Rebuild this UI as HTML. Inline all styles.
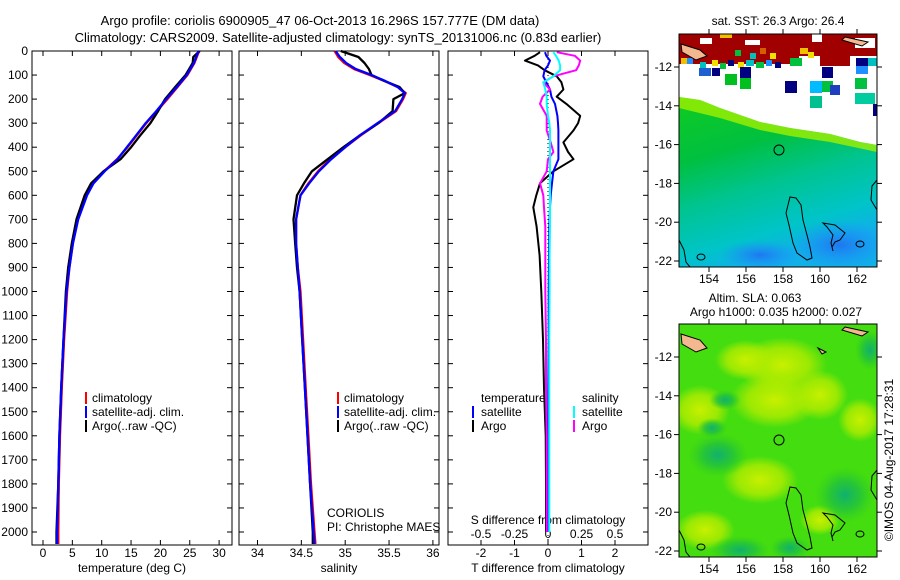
<!DOCTYPE html>
<html><head><meta charset="utf-8"><style>
html,body{margin:0;padding:0;background:#fff;}
svg{display:block;font-family:"Liberation Sans",sans-serif;}
text{fill:#000;}
</style></head><body>
<svg id="fig" width="900" height="580" viewBox="0 0 900 580" xmlns="http://www.w3.org/2000/svg">
<defs>
<linearGradient id="sstg" x1="0" y1="0" x2="0.35" y2="1">
<stop offset="0" stop-color="#10cc20"/><stop offset="0.35" stop-color="#00c040"/><stop offset="0.6" stop-color="#00c490"/><stop offset="0.85" stop-color="#00c4c8"/><stop offset="1" stop-color="#10b0e8"/></linearGradient>
<radialGradient id="yel"><stop offset="0" stop-color="#c8f000"/><stop offset="0.6" stop-color="#b0ec00" stop-opacity="0.8"/><stop offset="1" stop-color="#b0ec00" stop-opacity="0"/></radialGradient>
<radialGradient id="tea"><stop offset="0" stop-color="#10b070"/><stop offset="0.5" stop-color="#20c040" stop-opacity="0.8"/><stop offset="1" stop-color="#30cc20" stop-opacity="0"/></radialGradient>
<radialGradient id="blu"><stop offset="0" stop-color="#1e78f0"/><stop offset="1" stop-color="#1e90ff" stop-opacity="0"/></radialGradient>
<clipPath id="m1"><rect x="679" y="34" width="198" height="233"/></clipPath>
<clipPath id="m2"><rect x="679" y="324" width="198" height="233"/></clipPath>
</defs>

<text x="320" y="25" font-size="13" text-anchor="middle">Argo profile: coriolis 6900905_47 06-Oct-2013 16.296S 157.777E (DM data)</text>
<text x="338" y="42" font-size="13" text-anchor="middle">Climatology: CARS2009. Satellite-adjusted climatology: synTS_20131006.nc (0.83d earlier)</text>

<g id="p1"></g>
<g id="p2"></g>
<g id="p3"></g>

<g font-size="12">
<rect x="85" y="392" width="2" height="12" fill="#f00"/><text x="92" y="402">climatology</text>
<rect x="85" y="406" width="2" height="12" fill="#00f"/><text x="92" y="416">satellite-adj. clim.</text>
<rect x="85" y="420" width="2" height="12" fill="#000"/><text x="92" y="430">Argo(..raw -QC)</text>
</g>
<g font-size="12">
<rect x="337" y="392" width="2" height="12" fill="#f00"/><text x="344" y="402">climatology</text>
<rect x="337" y="406" width="2" height="12" fill="#00f"/><text x="344" y="416">satellite-adj. clim.</text>
<rect x="337" y="420" width="2" height="12" fill="#000"/><text x="344" y="430">Argo(..raw -QC)</text>
</g>
<g font-size="12">
<text x="481" y="402">temperature</text>
<rect x="472" y="406" width="2" height="12" fill="#00f"/><text x="481" y="416">satellite</text>
<rect x="472" y="420" width="2" height="12" fill="#000"/><text x="481" y="430">Argo</text>
<text x="582" y="402">salinity</text>
<rect x="573" y="406" width="2" height="12" fill="#0ff"/><text x="582" y="416">satellite</text>
<rect x="573" y="420" width="2" height="12" fill="#f0f"/><text x="582" y="430">Argo</text>
</g>
<text x="327" y="517" font-size="12">CORIOLIS</text>
<text x="327" y="531" font-size="12">PI: Christophe MAES</text>

<g>
<text x="778" y="25" font-size="12" text-anchor="middle">sat. SST: 26.3 Argo: 26.4</text>
<g clip-path="url(#m1)">
<rect x="679" y="34" width="198" height="233" fill="#fff"/>
<polygon points="679,97 700,100 720,108 740,115 760,122 790,128 830,134 860,142 877,145 877,267 679,267" fill="url(#sstg)"/>
<polygon points="679,97 700,100 720,108 740,115 760,122 790,128 830,134 860,142 877,145 877,152 830,142 790,136 760,130 720,118 679,108" fill="#a0f000" opacity="0.8"/>
<ellipse cx="840" cy="245" rx="50" ry="25" fill="url(#blu)"/>
<ellipse cx="760" cy="255" rx="40" ry="15" fill="url(#blu)"/>
<rect x="679" y="34" width="198" height="22" fill="#a00000"/>
<rect x="679" y="56" width="120" height="8" fill="#a00000"/>
<rect x="820" y="56" width="30" height="10" fill="#a00000"/>
<rect x="700" y="38" width="12" height="6" fill="#fff"/><rect x="745" y="40" width="15" height="5" fill="#fff"/><rect x="812" y="34" width="10" height="8" fill="#fff"/><rect x="855" y="38" width="20" height="10" fill="#fff"/>
<rect x="720" y="34" width="12" height="4" fill="#f0c000"/>
<rect x="735" y="50" width="6" height="6" fill="#00c040"/><rect x="750" y="53" width="6" height="6" fill="#00c0c0"/><rect x="760" y="48" width="6" height="6" fill="#d06000"/><rect x="770" y="53" width="6" height="6" fill="#f0e000"/>
<rect x="681" y="58" width="6" height="6" fill="#f0c000"/><rect x="687" y="58" width="6" height="6" fill="#1e90ff"/><rect x="700" y="62" width="6" height="6" fill="#00c0c0"/><rect x="712" y="60" width="6" height="6" fill="#f0e000"/><rect x="720" y="63" width="6" height="6" fill="#00c040"/><rect x="728" y="60" width="6" height="6" fill="#000080"/><rect x="738" y="62" width="6" height="6" fill="#f0e000"/><rect x="746" y="60" width="8" height="6" fill="#00c0c0"/><rect x="756" y="62" width="8" height="6" fill="#00c040"/><rect x="766" y="60" width="6" height="6" fill="#1e90ff"/><rect x="775" y="62" width="6" height="6" fill="#000080"/><rect x="790" y="58" width="12" height="8" fill="#00c040"/><rect x="800" y="48" width="8" height="6" fill="#f0c000"/><rect x="808" y="52" width="6" height="6" fill="#f0e000"/>
<rect x="699" y="68" width="12" height="8" fill="#1e60d0"/><rect x="712" y="68" width="8" height="8" fill="#000080"/><rect x="725" y="74" width="12" height="11" fill="#00c020"/><rect x="740" y="67" width="11" height="11" fill="#000080"/>
<rect x="740" y="78" width="11" height="11" fill="#00c020"/><rect x="785" y="81" width="12" height="12" fill="#000080"/><rect x="810" y="81" width="12" height="12" fill="#00bbff"/><rect x="822" y="81" width="11" height="11" fill="#00c040"/><rect x="830" y="85" width="10" height="10" fill="#1e40c0"/>
<rect x="822" y="67" width="11" height="11" fill="#000080"/><rect x="856" y="58" width="12" height="8" fill="#000080"/><rect x="856" y="66" width="12" height="8" fill="#1e90ff"/><rect x="855" y="78" width="12" height="11" fill="#00c040"/><rect x="868" y="58" width="9" height="8" fill="#00c0c0"/>
<rect x="810" y="96" width="12" height="12" fill="#00c090"/><rect x="855" y="93" width="20" height="11" fill="#00cca0"/><rect x="873" y="104" width="4" height="12" fill="#000080"/>
<path d="M681,44 L700,50 L707,56 L696,60 L682,52 Z" fill="#f4b890" stroke="#000" stroke-width="1"/>
<path d="M845,37 L868,42 L862,46 L842,40 Z" fill="#f4b890" stroke="#000" stroke-width="1"/>
</g>
<g fill="none" stroke="#000" stroke-width="1">
<path d="M790,197 L796,198 L801,205 L803,220 L807,235 L810,247 L812,258 L807,260 L797,253 L793,243 L789,225 L786,213 Z"/>
<path d="M823,223 L835,225 L845,233 L840,240 L835,242 L832,247 L833,251 L831,243 L833,235 L827,227 Z"/>
<ellipse cx="860" cy="244" rx="4" ry="3"/>
<path d="M877,180 L872,186 L871,200 L877,210"/>
<path d="M679,240 L684,250 L686,262 L690,267"/>
<ellipse cx="701" cy="257" rx="4" ry="3"/>
</g>
<circle cx="779" cy="150" r="5" fill="none" stroke="#000" stroke-width="1"/>
<rect x="679" y="34" width="198" height="233" fill="none" stroke="#000" stroke-width="1"/>
<g id="m1ticks"></g>
</g>

<g>
<text x="755" y="302" font-size="12" text-anchor="middle">Altim. SLA: 0.063</text>
<text x="776" y="316" font-size="12" text-anchor="middle">Argo h1000: 0.035 h2000: 0.027</text>
<g clip-path="url(#m2)">
<rect x="679" y="324" width="198" height="233" fill="#44dd10"/>
<ellipse cx="782" cy="365" rx="45" ry="28" fill="url(#yel)"/>
<ellipse cx="745" cy="360" rx="30" ry="20" fill="url(#yel)"/>
<ellipse cx="775" cy="400" rx="45" ry="28" fill="url(#yel)"/>
<ellipse cx="700" cy="410" rx="30" ry="25" fill="url(#yel)"/>
<ellipse cx="820" cy="395" rx="28" ry="25" fill="url(#yel)"/>
<ellipse cx="860" cy="420" rx="22" ry="22" fill="url(#yel)"/>
<ellipse cx="760" cy="480" rx="38" ry="24" fill="url(#yel)"/>
<ellipse cx="705" cy="530" rx="30" ry="20" fill="url(#yel)"/>
<ellipse cx="820" cy="520" rx="20" ry="15" fill="url(#yel)"/>
<ellipse cx="718" cy="455" rx="30" ry="22" fill="url(#tea)"/>
<ellipse cx="712" cy="428" rx="15" ry="10" fill="url(#tea)"/>
<ellipse cx="845" cy="495" rx="30" ry="28" fill="url(#tea)"/>
<ellipse cx="725" cy="400" rx="16" ry="10" fill="url(#tea)"/>
<ellipse cx="740" cy="550" rx="30" ry="14" fill="url(#tea)"/>
<ellipse cx="790" cy="548" rx="20" ry="12" fill="url(#tea)"/>
<ellipse cx="870" cy="350" rx="15" ry="20" fill="url(#tea)"/>
<path d="M681,334 L700,340 L707,348 L696,352 L682,344 Z" fill="#f4b890" stroke="#000" stroke-width="1"/>
<path d="M845,327 L868,332 L862,336 L842,330 Z" fill="#f4b890" stroke="#000" stroke-width="1"/>
<path d="M818,348 L826,352 L822,354 Z" fill="#f4b890" stroke="#000" stroke-width="1"/>
</g>
<g fill="none" stroke="#000" stroke-width="1">
<path d="M790,487 L796,488 L801,495 L803,510 L807,525 L810,537 L812,548 L807,550 L797,543 L793,533 L789,515 L786,503 Z"/>
<path d="M823,513 L835,515 L845,523 L840,530 L835,532 L832,537 L833,541 L831,533 L833,525 L827,517 Z"/>
<ellipse cx="860" cy="534" rx="4" ry="3"/>
<path d="M877,470 L872,476 L871,490 L877,500"/>
<path d="M679,530 L684,540 L686,552 L690,557"/>
<ellipse cx="701" cy="547" rx="4" ry="3"/>
</g>
<circle cx="779" cy="440" r="5" fill="none" stroke="#000" stroke-width="1"/>
<rect x="679" y="324" width="198" height="233" fill="none" stroke="#000" stroke-width="1"/>
<g id="m2ticks"></g>
</g>
<text transform="translate(893,460) rotate(-90)" font-size="12" text-anchor="middle">©IMOS 04-Aug-2017 17:28:31</text>

<script>
const depthTicks = [0,100,200,300,400,500,600,700,800,900,1000,1100,1200,1300,1400,1500,1600,1700,1800,1900,2000];
const tempTicks = [0,5,10,15,20,25,30];
const salTicks = [34,34.5,35,35.5,36];
const salTickLabels = ['34','34.5','35','35.5','36'];
const tDiffTicks = [-2,-1,0,1,2];
const sDiffTicks = [-0.5,-0.25,0,0.25,0.5];
const sDiffLabels = ['-0.5','-0.25','0','0.25','0.5'];

const tempDepth = [0,25,50,75,100,150,200,250,300,350,400,450,500,550,600,700,800,900,1000,1200,1400,1600,1800,2000,2050];
const tempClim = [26.6,26.2,25.8,25.2,24.6,22.9,21.2,19.4,17.6,16.0,14.4,12.6,10.4,8.5,7.4,5.9,5.1,4.5,4.1,3.6,3.2,2.9,2.7,2.6,2.6];
const tempSat  = [26.5,26.1,25.7,25.1,24.5,22.8,21.0,19.3,17.5,15.9,14.3,12.7,10.5,8.6,7.5,6.0,5.1,4.5,4.0,3.5,3.1,2.8,2.6,2.4,2.4];
const tempArgo = [26.7,25.6,25.5,24.9,24.3,22.5,20.8,19.6,18.3,16.6,15.0,13.2,10.3,8.2,7.1,5.7,4.9,4.3,3.9,3.5,3.1,2.8,2.6,2.3,2.3];

const salDepth = [0,25,50,75,100,125,150,175,200,250,300,350,400,450,500,550,600,700,800,900,1000,1200,1400,1600,1800,2000,2050];
const salClim = [34.88,34.92,34.99,35.10,35.28,35.45,35.60,35.69,35.66,35.58,35.38,35.18,35.00,34.83,34.69,34.58,34.49,34.44,34.44,34.46,34.49,34.52,34.55,34.58,34.61,34.65,34.66];
const salSat  = [34.89,34.94,35.01,35.12,35.30,35.46,35.60,35.68,35.65,35.57,35.37,35.17,35.00,34.84,34.70,34.59,34.49,34.44,34.44,34.46,34.48,34.51,34.54,34.57,34.60,34.64,34.65];
const salArgo = [34.95,35.15,35.22,35.27,35.30,35.45,35.62,35.68,35.55,35.54,35.38,35.17,34.98,34.80,34.62,34.53,34.45,34.41,34.43,34.45,34.48,34.51,34.54,34.57,34.60,34.63,34.63];

const diffDepth = [5,20,40,60,80,105,130,160,190,220,270,300,330,380,420,450,500,550,600,650,730,850,1000,1200,1400,1600,1800,2000];
const dTArgo = [-0.24,-0.4,-0.69,-0.3,-0.1,0.26,0.4,0.46,0.26,0.55,0.96,0.9,0.76,0.46,0.6,0.76,0.16,-0.24,-0.35,-0.44,-0.34,-0.25,-0.2,-0.15,-0.12,-0.07,-0.06,-0.06];
const dTSat  = [-0.09,-0.05,0.06,0.0,-0.1,-0.14,-0.05,0.06,0.1,0.21,0.28,0.3,0.31,0.31,0.31,0.31,0.16,0.12,0.08,0.06,0.04,0.03,0.02,0.02,0.01,0.01,0.0,0.0];
const dSArgo = [0.065,0.2,0.24,0.23,0.21,0.04,-0.035,0.015,-0.04,-0.06,-0.01,-0.01,-0.01,0.02,0.04,0.0,-0.01,-0.06,-0.035,-0.03,-0.02,-0.02,-0.02,-0.015,-0.015,-0.01,-0.01,-0.01];
const dSSat  = [0.04,0.06,0.08,0.09,0.09,0.04,-0.035,-0.02,-0.01,-0.01,0.0,0.01,0.015,0.015,0.015,0.015,0.015,0.015,0.015,0.015,0.015,0.012,0.012,0.01,0.01,0.01,0.01,0.01];

const latTicks = [-12,-14,-16,-18,-20,-22];
const lonTicks = [154,156,158,160,162];

const NS = 'http://www.w3.org/2000/svg';
const TOP = 51, BOT = 545;
const yD = d => TOP + d * 0.2405;
const xT = t => 43 + t * 5.87;
const xS = s => 257.5 + (s - 34) * 87.7;
const xDT = t => 548 + t * 33.5;
const xDS = s => 548 + s * 134;

function el(tag, attrs, parent) {
  const e = document.createElementNS(NS, tag);
  for (const k in attrs) e.setAttribute(k, attrs[k]);
  parent.appendChild(e);
  return e;
}
function drawPanel(g, x0, x1, name) {
  const fr = el('rect', {x:x0, y:TOP, width:x1-x0, height:BOT-TOP, fill:'none', stroke:'#000', 'stroke-width':1}, g);
  
  
  depthTicks.forEach(d => {
    const y = yD(d);
    const t1 = el('line', {x1:x0, x2:x0+5, y1:y, y2:y, stroke:'#000'}, g);
    
    
    const t2 = el('line', {x1:x1-5, x2:x1, y1:y, y2:y, stroke:'#000'}, g);
    
    
  });
}
function xTicks(g, vals, labels, fx, ly) {
  vals.forEach((v, i) => {
    const x = fx(v);
    const a = el('line', {x1:x, x2:x, y1:TOP, y2:TOP+5, stroke:'#000'}, g);
    
    
    const b = el('line', {x1:x, x2:x, y1:BOT-5, y2:BOT, stroke:'#000'}, g);
    
    
    const t = el('text', {x:x, y:ly, 'font-size':12, 'text-anchor':'middle'}, g);
    
    
    t.textContent = labels[i];
  });
}
function line(g, xs, ds, fx, color, name, w) {
  const d = xs.map((v, i) => (i ? 'L' : 'M') + fx(v).toFixed(1) + ',' + yD(ds[i]).toFixed(1)).join(' ');
  const p = el('path', {d:d, fill:'none', stroke:color, 'stroke-width':w || 2.3, 'stroke-linejoin':'round'}, g);
  
  
}
function label(g, x, y, txt, name, anchor) {
  const t = el('text', {x:x, y:y, 'font-size':12, 'text-anchor':anchor || 'middle'}, g);
  
  
  t.textContent = txt;
}

const p1 = document.getElementById('p1');
drawPanel(p1, 32, 232, 'temperature-panel');
depthTicks.forEach(d => label(p1, 28, yD(d) + 4, String(d), 'depth-tick-label', 'end'));
xTicks(p1, tempTicks, tempTicks.map(String), xT, 557);
label(p1, 132, 572, 'temperature (deg C)', 'x-axis-title');
line(p1, tempClim, tempDepth, xT, '#f00', 'temp-climatology-line');
line(p1, tempArgo, tempDepth, xT, '#000', 'temp-argo-line');
line(p1, tempSat, tempDepth, xT, '#00f', 'temp-satellite-line');

const p2 = document.getElementById('p2');
drawPanel(p2, 239, 439, 'salinity-panel');
xTicks(p2, salTicks, salTickLabels, xS, 557);
label(p2, 339, 572, 'salinity', 'x-axis-title');
line(p2, salClim, salDepth, xS, '#f00', 'sal-climatology-line');
line(p2, salArgo, salDepth, xS, '#000', 'sal-argo-line');
line(p2, salSat, salDepth, xS, '#00f', 'sal-satellite-line');

const p3 = document.getElementById('p3');
drawPanel(p3, 448, 648, 'difference-panel');
xTicks(p3, tDiffTicks, tDiffTicks.map(String), xDT, 557);
label(p3, 548, 572, 'T difference from climatology', 'x-axis-title');
label(p3, 548, 524, 'S difference from climatology', 's-axis-title');
sDiffTicks.forEach((v, i) => label(p3, xDS(v), 538, sDiffLabels[i], 's-tick-label'));
const zl = el('line', {x1:548, x2:548, y1:TOP, y2:BOT, stroke:'#000', 'stroke-dasharray':'1,3'}, p3);


line(p3, dTArgo, diffDepth, xDT, '#000', 'tdiff-argo-line', 2);
line(p3, dTSat, diffDepth, xDT, '#00f', 'tdiff-satellite-line', 2);
line(p3, dSArgo, diffDepth, xDS, '#f0f', 'sdiff-argo-line', 2);
line(p3, dSSat, diffDepth, xDS, '#0ff', 'sdiff-satellite-line', 2);

function mapAxes(id, y0, y1, lat12y) {
  const g = document.getElementById(id);
  latTicks.forEach(lat => {
    const y = lat12y + (-12 - lat) * 19.4;
    const a = el('line', {x1:674, x2:679, y1:y, y2:y, stroke:'#000'}, g);
    
    
    const b = el('line', {x1:877, x2:882, y1:y, y2:y, stroke:'#000'}, g);
    
    
    label(g, 672, y + 4, String(lat), 'lat-tick-label', 'end');
  });
  lonTicks.forEach(lon => {
    const x = 709 + (lon - 154) * 18.5;
    const a = el('line', {x1:x, x2:x, y1:y0-5, y2:y0, stroke:'#000'}, g);
    
    
    const b = el('line', {x1:x, x2:x, y1:y1, y2:y1+5, stroke:'#000'}, g);
    
    
    label(g, x, y1 + 16, String(lon), 'lon-tick-label');
  });
}
mapAxes('m1ticks', 34, 267, 67);
mapAxes('m2ticks', 324, 557, 357);
</script>
</svg>
</body></html>
